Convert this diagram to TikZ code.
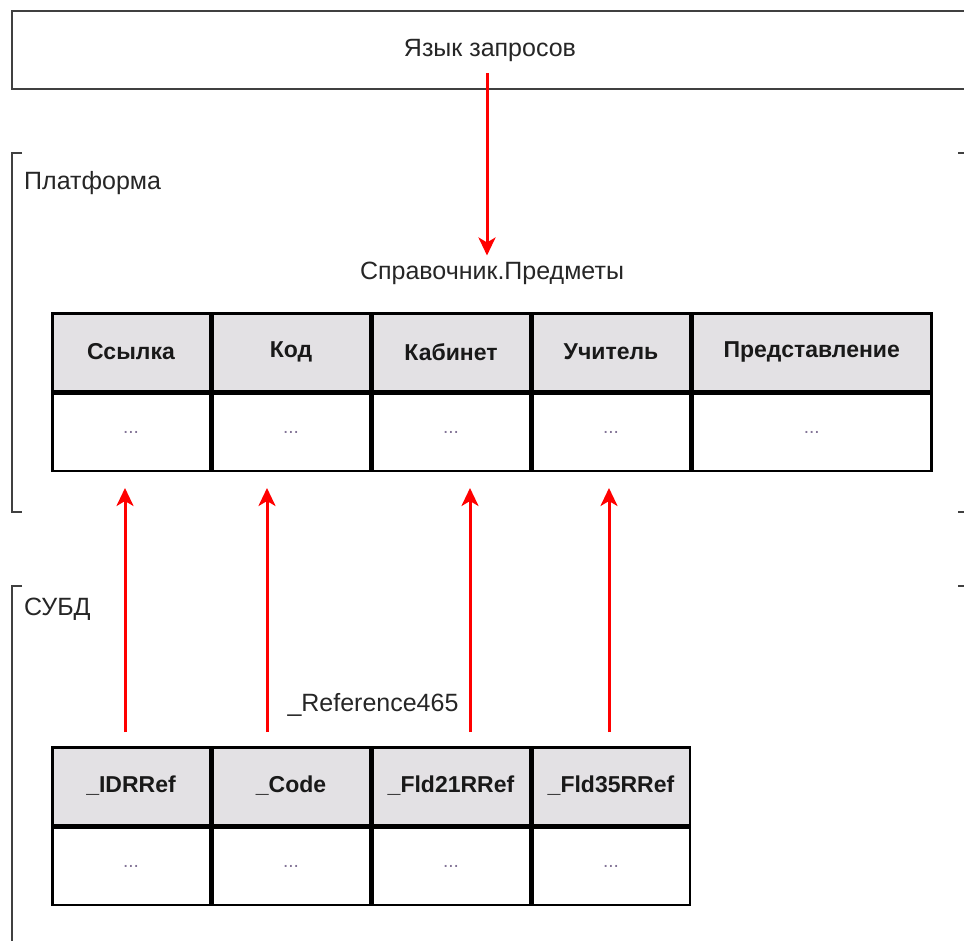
\documentclass[tikz,border=0pt]{standalone}
\usepackage{fontspec}
\setmainfont{Liberation Sans}
\usetikzlibrary{arrows.meta,positioning}

\definecolor{headgray}{RGB}{227,225,228}
\definecolor{dotgray}{RGB}{130,115,150}

\tikzset{
	frame/.style={draw=black!75, line width=2pt},
	head/.style={draw=black, line width=2.5pt, fill=headgray, inner sep=0pt,
		minimum width=157.5pt, minimum height=77.5pt, text=black!90,
		font=\fontsize{23}{27}\selectfont\bfseries},
	cell/.style={draw=black, line width=2.5pt, fill=white, inner sep=0pt,
		minimum width=157.5pt, minimum height=77.5pt, text=dotgray,
		font=\fontsize{19}{23}\selectfont},
	label/.style={text=black!85, inner sep=0pt, font=\fontsize{25}{30}\selectfont},
	link/.style={red, line width=3pt, -{Stealth[length=18pt,width=17pt,inset=5pt]}},
}

\begin{document}
\begin{tikzpicture}[x=1pt, y=-1pt]
	\useasboundingbox (0,0) rectangle (964,940);

	% query language box, open to the right
	\draw[frame] (975,11) -- (12,11) -- (12,89) -- (975,89);
	\node[label] (query) at (490,50) {Язык запросов};

	% platform and DBMS brackets
	\draw[frame] (22,153) -- (12,153) -- (12,512) -- (22,512);
	\draw[frame] (22,586) -- (12,586) -- (12,950);
	\draw[frame] (958,153) -- (966,153);
	\draw[frame] (958,512) -- (966,512);
	\draw[frame] (958,586) -- (966,586);
	\node[label, anchor=west] (platform) at (24,183) {Платформа};
	\node[label, anchor=west] (dbms) at (24,609) {СУБД};

	% catalog table
	\node[label] (catalog) at (492,273) {Справочник.Предметы};
	\node[head] (ssylka) at (131,352) {Ссылка};
	\node[head, right=0pt of ssylka] (kod) {Код};
	\node[head, right=0pt of kod] (kabinet) {Кабинет};
	\node[head, right=0pt of kabinet] (uchitel) {Учитель};
	\node[head, right=0pt of uchitel, minimum width=239pt] (predst) {Представление};
	\foreach \c in {ssylka,kod,kabinet,uchitel}
		\node[cell, below=0pt of \c] (\c-v) {...};
	\node[cell, below=0pt of predst, minimum width=239pt] (predst-v) {...};

	% stored table
	\node[label] (dbtable) at (373,705) {\_Reference465};
	\node[head] (idrref) at (131,786) {\_IDRRef};
	\node[head, right=0pt of idrref] (code) {\_Code};
	\node[head, right=0pt of code] (fld21) {\_Fld21RRef};
	\node[head, right=0pt of fld21] (fld35) {\_Fld35RRef};
	\foreach \c in {idrref,code,fld21,fld35}
		\node[cell, below=0pt of \c] (\c-v) {...};

	% mapping arrows
	\draw[link] ([xshift=-3pt,yshift=-12pt]query.south) -- ([xshift=-5pt,yshift=6pt]catalog.north);
	\draw[link] ([xshift=-6pt,yshift=14pt]idrref.north) -- ([xshift=-6pt,yshift=-16pt]ssylka-v.south);
	\draw[link] ([xshift=-24pt,yshift=14pt]code.north) -- ([xshift=-24pt,yshift=-16pt]kod-v.south);
	\draw[link] ([xshift=19pt,yshift=14pt]fld21.north) -- ([xshift=19pt,yshift=-16pt]kabinet-v.south);
	\draw[link] ([xshift=-2pt,yshift=14pt]fld35.north) -- ([xshift=-2pt,yshift=-16pt]uchitel-v.south);
\end{tikzpicture}
\end{document}
